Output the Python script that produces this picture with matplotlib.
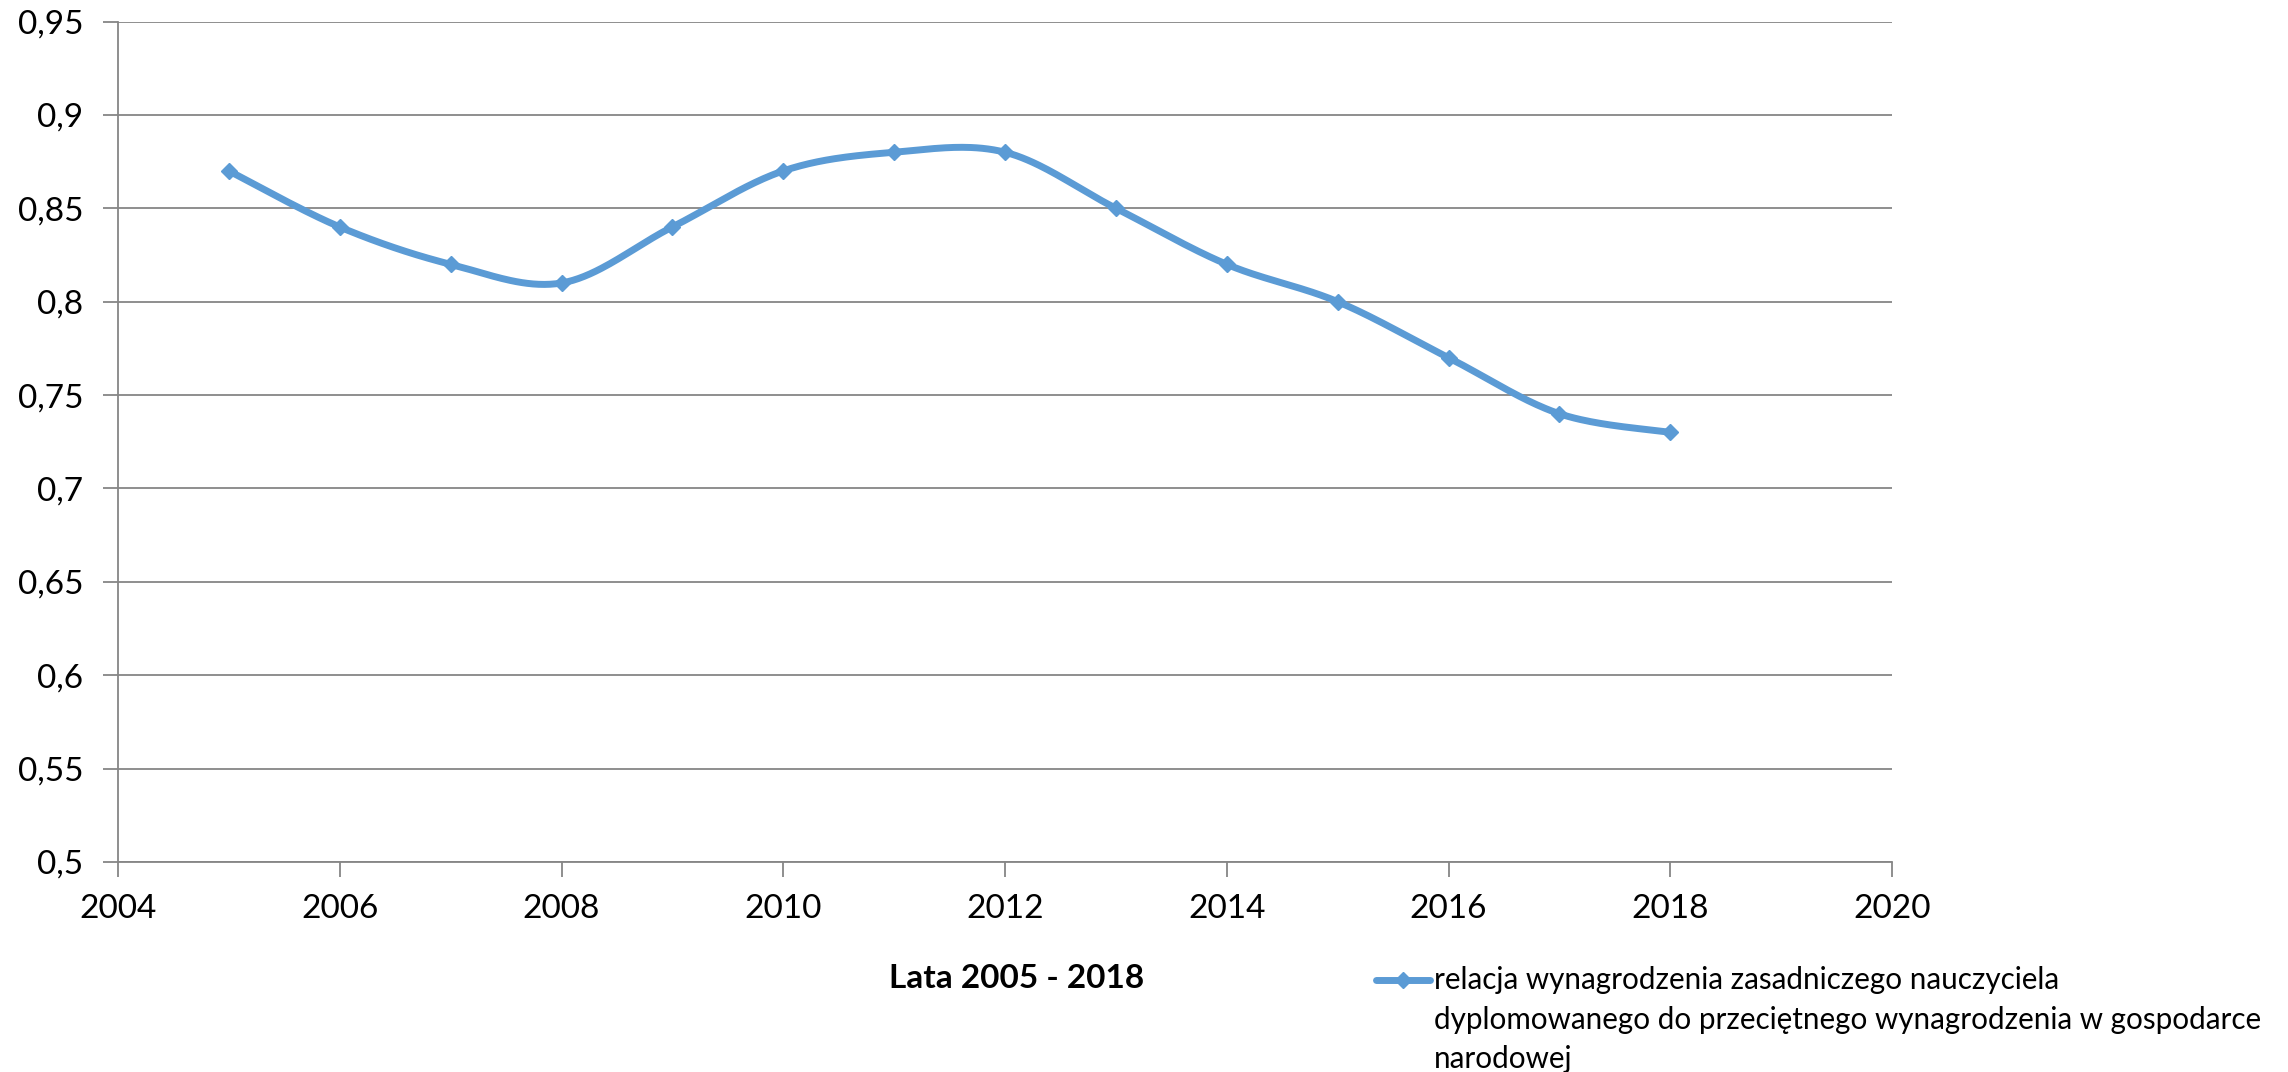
import numpy as np
import matplotlib
matplotlib.use("Agg")
import matplotlib.pyplot as plt
from matplotlib.lines import Line2D
from matplotlib.ticker import FuncFormatter

years = [2005, 2006, 2007, 2008, 2009, 2010, 2011, 2012, 2013, 2014, 2015, 2016, 2017, 2018]
values = [0.87, 0.84, 0.82, 0.81, 0.84, 0.87, 0.88, 0.88, 0.85, 0.82, 0.80, 0.77, 0.74, 0.73]
series_label_lines = ["relacja wynagrodzenia zasadniczego nauczyciela",
                      "dyplomowanego do przeciętnego wynagrodzenia w gospodarce",
                      "narodowej"]
x_title = "Lata 2005 - 2018"
yticks = [0.5, 0.55, 0.6, 0.65, 0.7, 0.75, 0.8, 0.85, 0.9, 0.95]
xticks = [2004, 2006, 2008, 2010, 2012, 2014, 2016, 2018, 2020]

plt.rcParams['font.family'] = ['Lato', 'DejaVu Sans']

COLOR = '#5B9BD5'
GRID = '#868686'
FS = 24
FS_LEG = 21.3

def smooth(xs, ys, n=40):
    xs = np.asarray(xs, float); ys = np.asarray(ys, float)
    P = np.column_stack([xs, ys])
    Pext = np.vstack([P[0], P, P[-1]])
    out = []
    for i in range(len(P) - 1):
        p0, p1, p2, p3 = Pext[i], Pext[i + 1], Pext[i + 2], Pext[i + 3]
        c1 = p1 + (p2 - p0) / 6.0
        c2 = p2 - (p3 - p1) / 6.0
        t = np.linspace(0, 1, n)[:, None]
        seg = ((1 - t) ** 3) * p1 + 3 * ((1 - t) ** 2) * t * c1 + 3 * (1 - t) * t ** 2 * c2 + t ** 3 * p2
        out.append(seg if i == 0 else seg[1:])
    S = np.vstack(out)
    return S[:, 0], S[:, 1]

W, H = 2288, 1072
fig = plt.figure(figsize=(W / 100, H / 100), dpi=100)
L, R, T, B = 118, 1892, 21.5, 862
ax = fig.add_axes([L / W, 1 - B / H, (R - L) / W, (B - T) / H])

sx, sy = smooth(years, values)
ax.plot(sx, sy, color=COLOR, lw=5, solid_capstyle='round', zorder=3)
ax.plot(years, values, linestyle='none', marker='D', ms=8.5, color=COLOR, zorder=4)

ax.set_xlim(2004, 2020)
ax.set_ylim(0.5, 0.95)
ax.set_xticks(xticks)
ax.set_yticks(yticks)
ax.yaxis.set_major_formatter(FuncFormatter(lambda v, p: ('%g' % v).replace('.', ',')))
ax.xaxis.set_major_formatter(FuncFormatter(lambda v, p: '%d' % v))
ax.yaxis.grid(True, color=GRID, lw=1.3)
ax.set_axisbelow(True)
for s in ['top', 'right']:
    ax.spines[s].set_visible(False)
for s in ['left', 'bottom']:
    ax.spines[s].set_color(GRID)
    ax.spines[s].set_linewidth(1.3)
ax.tick_params(axis='both', colors=GRID, labelcolor='black', labelsize=FS, length=11, width=1.3)
ax.tick_params(axis='y', pad=14)
ax.tick_params(axis='x', pad=12)

fig.text(1017 / W, 1 - 978 / H, x_title, ha='center', va='center', fontsize=FS, fontweight='bold')

# legend (drawn manually to match layout)
ly = 1 - 980 / H
fig.add_artist(Line2D([1376 / W, 1430 / W], [ly, ly], color=COLOR, lw=5, solid_capstyle='round'))
fig.add_artist(Line2D([1403 / W], [ly], color=COLOR, marker='D', ms=8.5, linestyle='none'))
for i, line in enumerate(series_label_lines):
    fig.text(1434 / W, 1 - (980 + 39.5 * i) / H, line, ha='left', va='center', fontsize=FS_LEG)

fig.savefig('out.png', dpi=100)
